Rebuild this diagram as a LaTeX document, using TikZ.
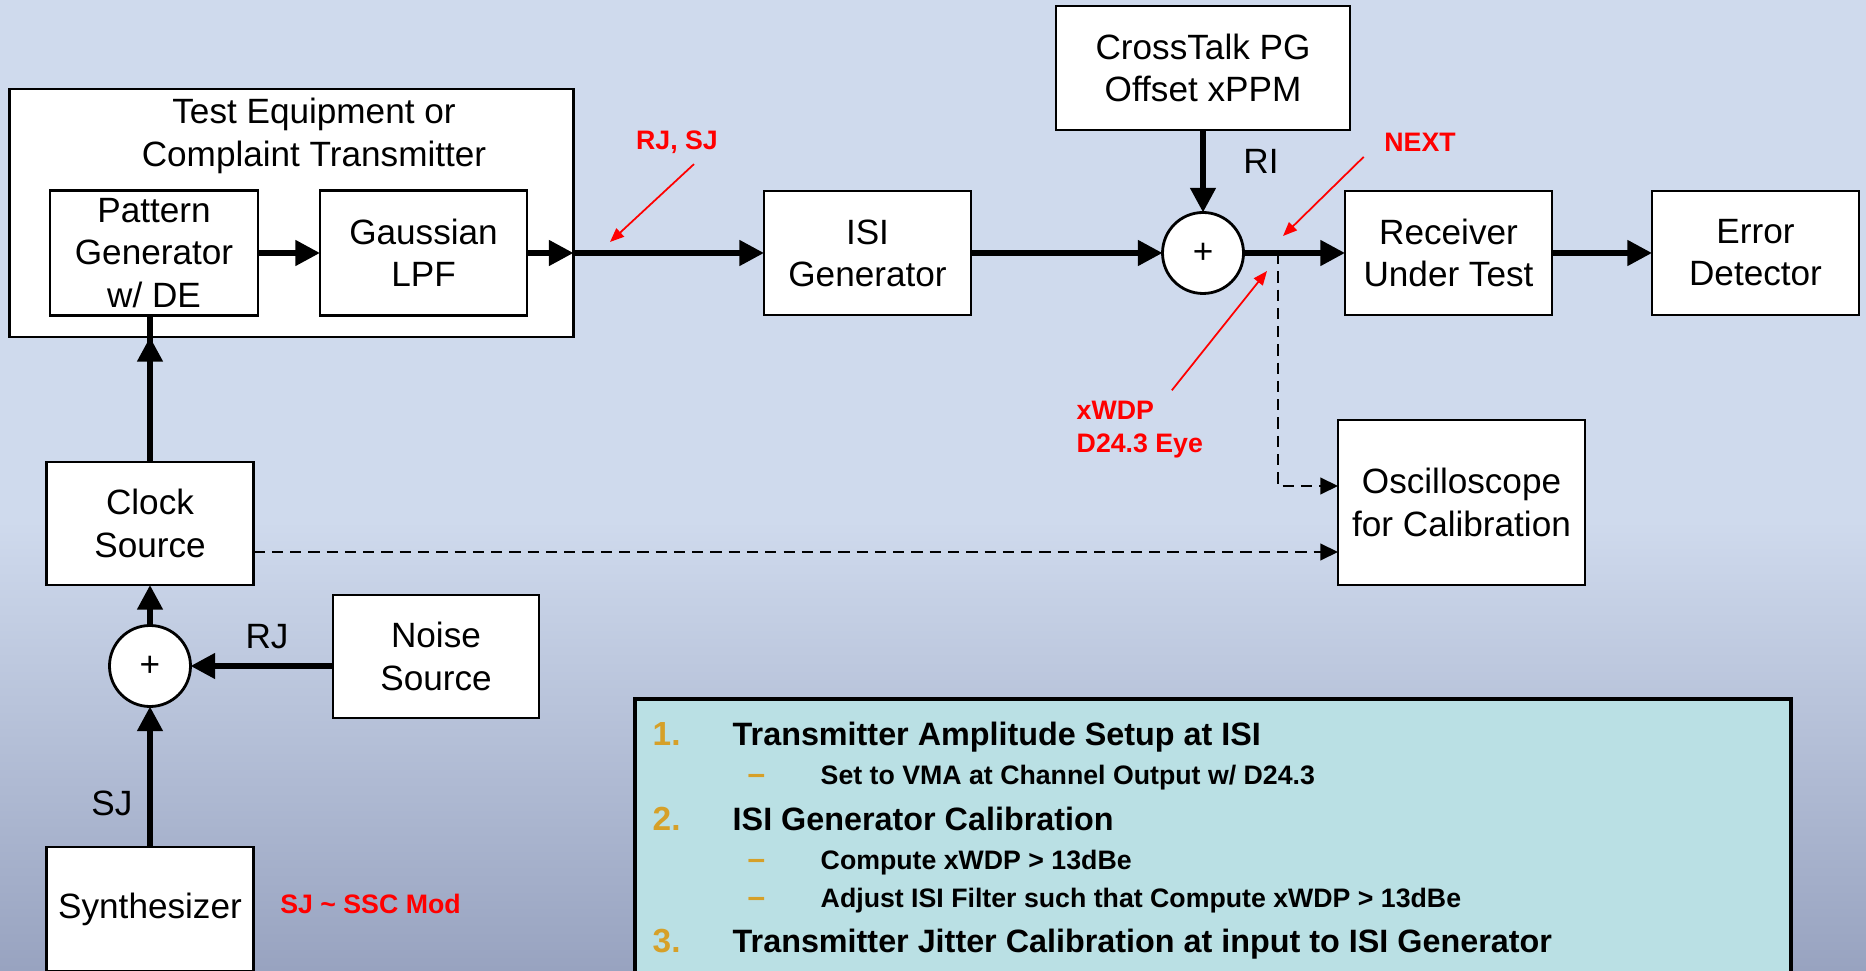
\documentclass[tikz,border=0pt]{standalone}
\usepackage{fontspec}
\setmainfont{Liberation Sans}
\usepackage{tikz}
\usetikzlibrary{arrows.meta, positioning, calc}
\usepackage{xcolor}
\definecolor{bgtop}{RGB}{207,218,237}
\definecolor{bgbot}{RGB}{152,163,192}
\definecolor{notefill}{RGB}{186,224,228}
\definecolor{numgold}{RGB}{214,160,40}

\begin{document}
\begin{tikzpicture}[
    blk/.style={rectangle, draw=black, line width=0.8pt, fill=white,
                minimum width=2.07cm, minimum height=1.24cm, outer sep=0pt,
                font=\fontsize{10}{12}\selectfont, align=center, inner sep=1pt},
    adder/.style={circle, draw=black, line width=0.8pt, fill=white, outer sep=0pt,
                  minimum size=0.81cm, inner sep=0pt, font=\fontsize{10}{12}\selectfont},
    sig/.style={-{Triangle[length=7pt, width=7pt]}, line width=1.6pt},
    tapline/.style={-{Triangle[length=5pt, width=4.7pt]}, line width=0.6pt,
                    dash pattern=on 3.2pt off 2pt},
    note/.style={-{Triangle[length=4pt, width=3.2pt]}, red, line width=0.5pt},
    redlbl/.style={text=red, font=\fontsize{7.6}{9.4}\selectfont\bfseries,
                   align=left, inner sep=0pt},
    lbl/.style={font=\fontsize{10}{12}\selectfont, inner sep=0pt},
    itemnum/.style={text=numgold, font=\fontsize{9.5}{11}\selectfont\bfseries,
                    anchor=base west, inner sep=0pt},
    itemtxt/.style={font=\fontsize{9.2}{11}\selectfont\bfseries,
                    anchor=base west, inner sep=0pt},
    subdash/.style={text=numgold, font=\fontsize{9}{9}\selectfont\bfseries,
                    anchor=base, inner sep=0pt},
    subtxt/.style={font=\fontsize{7.6}{9}\selectfont\bfseries,
                   anchor=base west, inner sep=0pt},
]

% background
\useasboundingbox (0,0) rectangle (18.66,9.70);
\fill[bgtop] (0,0) rectangle (18.66,9.70);
\shade[top color=bgtop, bottom color=bgbot] (0,0) rectangle (18.66,4.5);

% transmitter side
\node[blk, minimum width=5.64cm, minimum height=2.48cm] (TE) at (2.915,7.57) {};
\node[lbl, align=center] (TEtitle) at (3.14,8.34) {Test Equipment or\\Complaint Transmitter};
\node[blk, minimum width=2.08cm, minimum height=1.25cm] (PG) at (1.54,7.17)
     {Pattern\\Generator\\w/ DE};
\node[blk, minimum height=1.25cm, right=0.62cm of PG] (LPF) {Gaussian\\LPF};

% channel and receiver
\node[blk, right=2.37cm of LPF] (ISI) {ISI\\Generator};
\node[adder, right=1.915cm of ISI] (Sum) {+};
\node[blk, minimum width=2.94cm, above=0.825cm of Sum] (CT) {CrossTalk PG\\Offset xPPM};
\node[blk, right=1.015cm of Sum] (RUT) {Receiver\\Under Test};
\node[blk, right=1.00cm of RUT] (ED) {Error\\Detector};
\node[blk, minimum width=2.47cm, minimum height=1.65cm, below=1.05cm of RUT,
      xshift=0.13cm] (Osc) {Oscilloscope\\for Calibration};

% clock chain
\node[blk, minimum height=1.23cm] (Clock) at (1.50,4.465) {Clock\\Source};
\node[adder, below=0.405cm of Clock] (Sum2) {+};
\node[blk, minimum width=2.06cm, minimum height=1.23cm, right=1.425cm of Sum2,
      yshift=0.095cm] (Noise) {Noise\\Source};
\node[blk, below=1.405cm of Sum2] (Synth) {Synthesizer};

% main signal path
\draw[sig] (PG) -- (LPF);
\draw[sig] (LPF.east) -- (LPF.east -| TE.east);
\draw[sig] (LPF.east -| TE.east) -- (ISI.west);
\draw[sig] (ISI) -- (Sum);
\draw[sig] (CT) -- (Sum);
\draw[sig] (Sum) -- (RUT);
\draw[sig] (RUT) -- (ED);

% Clock -> PG
\draw[line width=1.6pt] (Clock.north) -- (Clock.north |- PG.south);
\draw[sig] (Clock) -- (Clock.north |- TE.south);

% jitter injection
\draw[sig] (Sum2) -- (Clock);
\draw[sig] (Noise.west |- Sum2.east) -- (Sum2.east);
\draw[sig] (Synth) -- (Sum2);

% calibration taps
\coordinate (tap) at ($(Sum.east)!0.34!(RUT.west)$);
\draw[tapline] (tap) |- ([yshift=0.165cm]Osc.west);
\draw[tapline] ([yshift=-0.285cm]Clock.east) -- ([yshift=-0.285cm]Clock.east -| Osc.west);

% signal labels
\node[lbl] (RI) at (12.61,8.09) {RI};
\node[lbl] (RJ) at (2.67,3.33) {RJ};
\node[lbl] (SJ) at (1.12,1.67) {SJ};

% red annotations
\node[redlbl] (rjsj) at (6.77,8.28) {RJ, SJ};
\coordinate (rjsjtip) at (6.10,7.28);
\draw[note] ([shift={(0.17,-0.1)}]rjsj.south) -- (rjsjtip);

\node[redlbl] (next) at (14.20,8.28) {NEXT};
\coordinate (nexttip) at (12.83,7.34);
\draw[note] ([shift={(-0.2,-0.05)}]next.south west) -- (nexttip);

\node[redlbl, anchor=west] (eye) at (10.76,5.405) {xWDP\\D24.3 Eye};
\coordinate (eyetip) at (12.67,6.99);
\draw[note] ([shift={(0.32,0.1)}]eye.north) -- (eyetip);

\node[redlbl] (ssc) at (3.705,0.66) {SJ \textasciitilde{} SSC Mod};

% calibration steps
\node[draw=black, line width=1.1pt, fill=notefill, minimum width=11.56cm,
      minimum height=2.93cm, anchor=north west, inner sep=0pt] (steps) at (6.33,2.73) {};

\node[itemnum] (n1) at (6.52,2.245) {1.};
\node[itemtxt] (s1) at (7.32,2.245) {Transmitter Amplitude Setup at ISI};
\node[subdash] (d1) at (7.565,1.855) {--};
\node[subtxt] (s1a) at (8.20,1.855) {Set to VMA at Channel Output w/ D24.3};

\node[itemnum] (n2) at (6.52,1.395) {2.};
\node[itemtxt] (s2) at (7.32,1.395) {ISI Generator Calibration};
\node[subdash] (d2) at (7.565,1.005) {--};
\node[subtxt] (s2a) at (8.20,1.005) {Compute xWDP > 13dBe};
\node[subdash] (d3) at (7.565,0.625) {--};
\node[subtxt] (s2b) at (8.20,0.625) {Adjust ISI Filter such that Compute xWDP > 13dBe};

\node[itemnum] (n3) at (6.52,0.175) {3.};
\node[itemtxt] (s3) at (7.32,0.175) {Transmitter Jitter Calibration at input to ISI Generator};

\end{tikzpicture}
\end{document}
